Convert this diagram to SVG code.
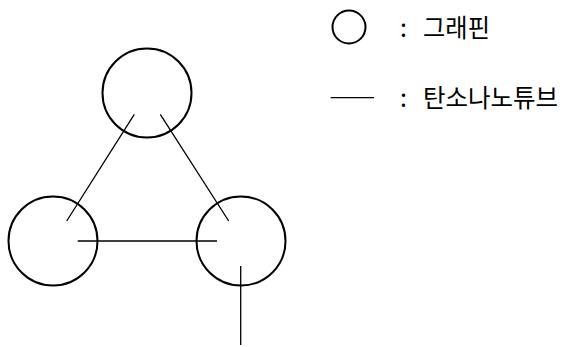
<svg xmlns="http://www.w3.org/2000/svg" width="566" height="347" viewBox="0 0 566 347">
<style>
.g{fill:none;stroke:#000;stroke-width:2}
.t{stroke:#000;stroke-width:1.3;fill:none}
.lbl{font-family:"Noto Sans CJK KR","Noto Sans",sans-serif;font-size:25px;fill:#000}
</style>
<rect width="566" height="347" fill="#fff"/>
<g id="graphene-top"><circle class="g" cx="147" cy="93" r="44.5"/></g>
<g id="graphene-left"><circle class="g" cx="53" cy="241" r="44.5"/></g>
<g id="graphene-right"><circle class="g" cx="241" cy="241" r="44.5"/></g>
<g id="connectors">
<line class="t" x1="134.3" y1="114.3" x2="66.7" y2="221"/>
<line class="t" x1="160.3" y1="114.3" x2="228.7" y2="221"/>
<line class="t" x1="77.7" y1="241" x2="217" y2="241"/>
<line class="t" x1="240.7" y1="266" x2="240.7" y2="345"/>
</g>
<g id="legend-graphene">
<circle class="g" cx="349" cy="27" r="16.5" stroke-width="1.6"/>
<text class="lbl" x="400" y="37">:</text>
<text class="lbl" x="423" y="37" textLength="67" lengthAdjust="spacingAndGlyphs">그래핀</text>
</g>
<g id="legend-cnt">
<line class="t" x1="330.7" y1="97.7" x2="374" y2="97.7"/>
<text class="lbl" x="400" y="107">:</text>
<text class="lbl" x="423" y="107" textLength="135" lengthAdjust="spacingAndGlyphs">탄소나노튜브</text>
</g>
</svg>
